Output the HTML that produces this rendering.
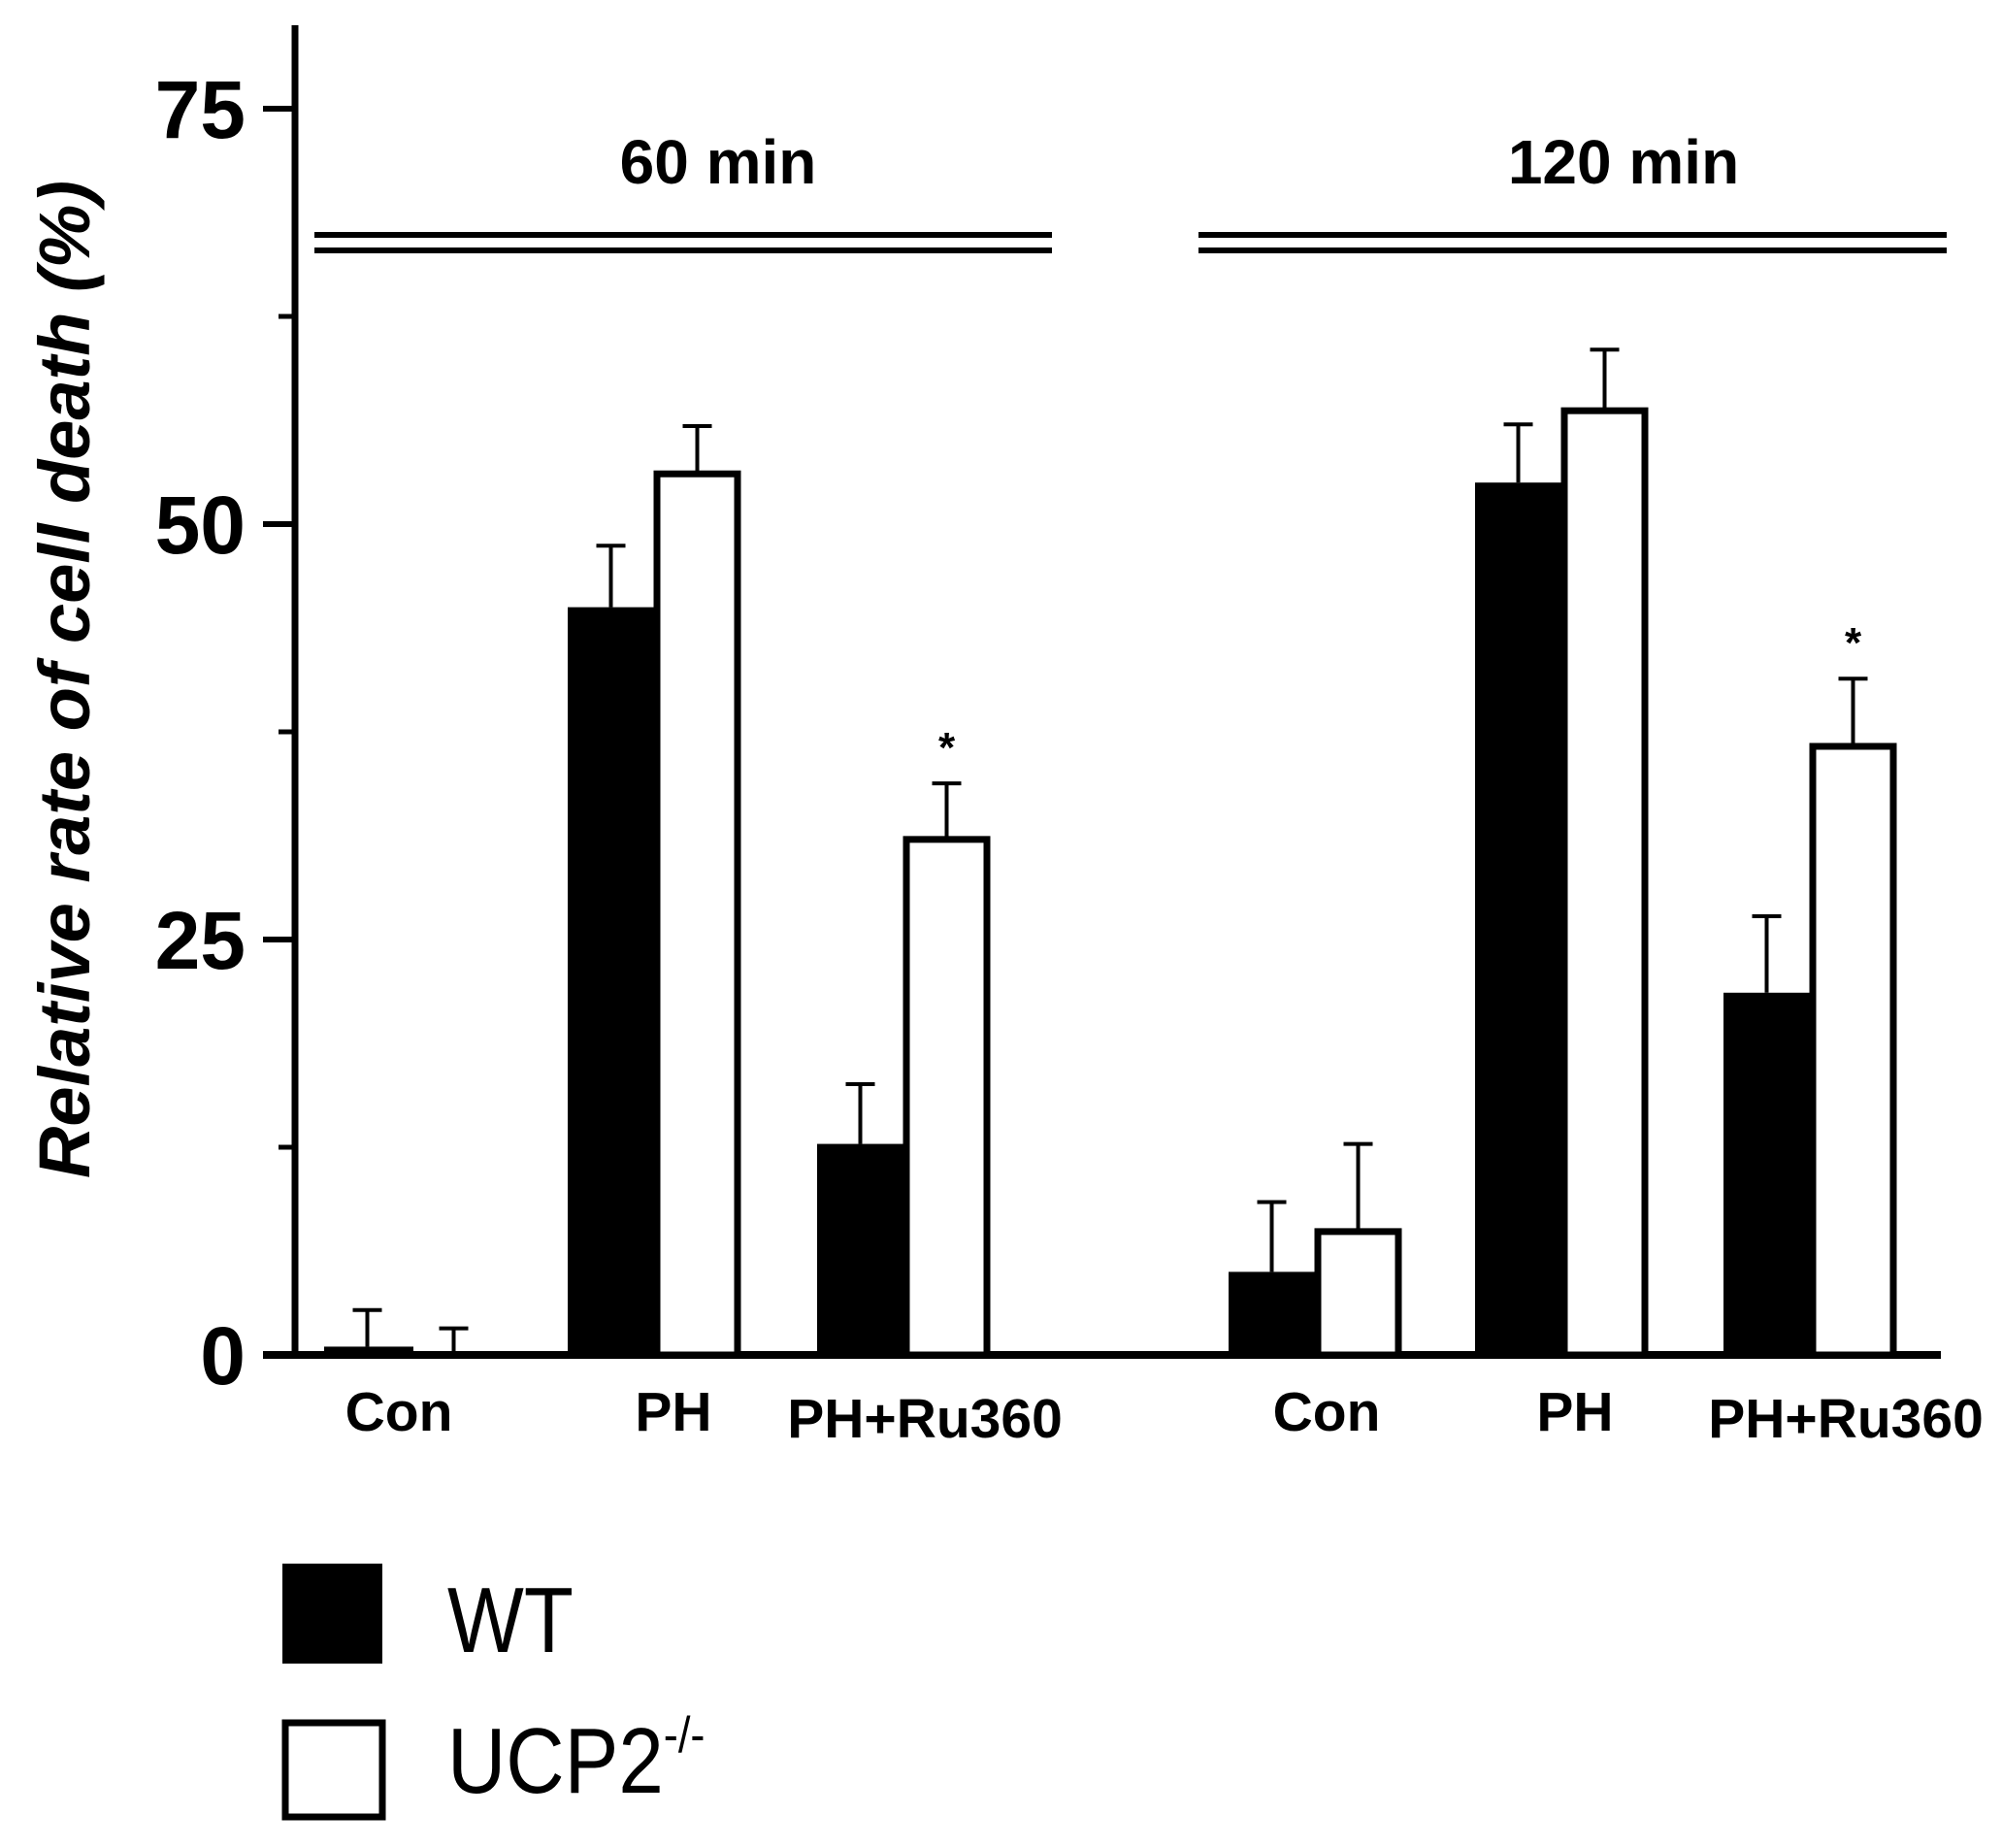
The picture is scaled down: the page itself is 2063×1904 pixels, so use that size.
<!DOCTYPE html>
<html><head><meta charset="utf-8"><style>
html,body{margin:0;padding:0;background:#fff;}
svg{display:block;}
text{font-family:"Liberation Sans",sans-serif;fill:#000;}
</style></head><body>
<svg id="chart" width="2063" height="1904" viewBox="0 0 2063 1904">
<g id="axes"></g>
<g id="bars"></g>
<text x="740" y="189" font-size="64" font-weight="bold" text-anchor="middle">60 min</text>
<text x="1673" y="189" font-size="64" font-weight="bold" text-anchor="middle">120 min</text>
<g>
<rect x="324" y="239" width="760" height="6" fill="#000"/><rect x="324" y="255" width="760" height="6" fill="#000"/></g>
<g>
<rect x="1235" y="239" width="771" height="6" fill="#000"/><rect x="1235" y="255" width="771" height="6" fill="#000"/></g>
<text transform="translate(92,700) rotate(-90)" font-size="74" font-weight="bold" font-style="italic" text-anchor="middle">Relative rate of cell death (%)</text>
<g>
<rect x="291" y="1611" width="103" height="103" fill="#000"/>
<text transform="translate(461,1702) scale(0.87,1)" font-size="96">WT</text>
<rect x="294" y="1775" width="100" height="97" fill="#fff" stroke="#000" stroke-width="7"/>
<text transform="translate(461,1847) scale(0.87,1)" font-size="96">UCP2<tspan font-size="52" dy="-42">-/-</tspan></text>
</g>
</svg>
<script>
const categories=["Con","PH","PH+Ru360","Con","PH","PH+Ru360"];
const wtValues=[0.5,45,12.7,5.0,52.5,21.8];
const wtErrors=[2.2,3.7,3.6,4.2,3.5,4.6];
const ucpValues=[0,53.2,31.2,7.6,57,36.8];
const ucpErrors=[1.6,2.7,3.2,5.1,3.5,3.9];
const significant=[false,false,true,false,false,true];
const yTicks=[0,25,50,75];
const yMinorTicks=[12.5,37.5,62.5];

const NS="http://www.w3.org/2000/svg";
const y0=1396,pxPerUnit=(1396-112)/75;
function yScale(v){return y0-v*pxPerUnit;}
const groupStarts=[334,585,842,1266,1520,1776];
const labelCenters=[411,694,953,1367,1623,1902];
const barW=89;
function xWT(i){return groupStarts[i];}
function mk(tag,attrs,parent){const e=document.createElementNS(NS,tag);for(const k in attrs)e.setAttribute(k,attrs[k]);parent.appendChild(e);return e;}
const axes=document.getElementById('axes');
const bars=document.getElementById('bars');

const ya=mk('line',{x1:304,y1:26,x2:304,y2:y0+3,stroke:'#000','stroke-width':7},axes);


const xa=mk('line',{x1:271,y1:y0,x2:2000,y2:y0,stroke:'#000','stroke-width':8},axes);


yTicks.forEach(t=>{
  const l=mk('line',{x1:271,y1:yScale(t),x2:304,y2:yScale(t),stroke:'#000','stroke-width':6},axes);
  
  
  const tx=mk('text',{x:253,y:yScale(t)+30,'font-size':84,'font-weight':'bold','text-anchor':'end'},axes);
  tx.textContent=t;
  
  
});
yMinorTicks.forEach(t=>{
  const l=mk('line',{x1:287,y1:yScale(t),x2:304,y2:yScale(t),stroke:'#000','stroke-width':5},axes);
  
  
});

function errBar(cx,top,err){
  const g=mk('g',{},bars);
  mk('line',{x1:cx,y1:yScale(top),x2:cx,y2:yScale(top+err),stroke:'#000','stroke-width':4},g);
  mk('line',{x1:cx-15,y1:yScale(top+err),x2:cx+15,y2:yScale(top+err),stroke:'#000','stroke-width':4},g);
  return g;
}
categories.forEach((c,i)=>{
  const x=xWT(i);
  const eu=errBar(x+barW*1.5,ucpValues[i],ucpErrors[i]);
  
  
  const ew=errBar(x+barW/2,wtValues[i],wtErrors[i]);
  
  
  const hU=ucpValues[i]*pxPerUnit;
  if(hU>0){
    const ru=mk('rect',{x:x+barW+3,y:yScale(ucpValues[i])+3,width:barW-6,height:Math.max(hU-3,0),fill:'#fff',stroke:'#000','stroke-width':7},bars);
    
    
  }
  const rw=mk('rect',{x:x,y:yScale(wtValues[i]),width:barW+3,height:wtValues[i]*pxPerUnit,fill:'#000'},bars);
  
  
  const lab=mk('text',{x:labelCenters[i],y:(c==='PH+Ru360')?1481:1474,'font-size':57,'font-weight':'bold','text-anchor':'middle'},bars);
  lab.textContent=c;
  
  
  if(significant[i]){
    const s=mk('text',{x:x+barW*1.5,y:yScale(ucpValues[i]+ucpErrors[i])-22,'font-size':44,'font-weight':'bold','text-anchor':'middle'},bars);
    s.textContent='*';
    
    
  }
});
</script>
</body></html>
